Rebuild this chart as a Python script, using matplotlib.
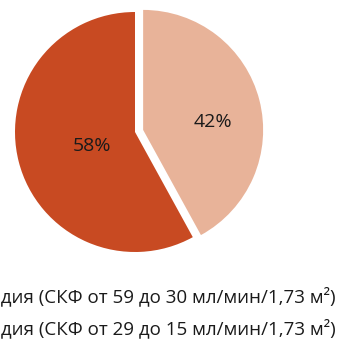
import matplotlib
matplotlib.use("Agg")
import matplotlib.pyplot as plt

# data
stages = ["3 стадия", "4 стадия"]
ranges = ["(СКФ от 59 до 30 мл/мин/1,73 м²)", "(СКФ от 29 до 15 мл/мин/1,73 м²)"]
shares = [58, 42]
colors = ["#C84A22", "#E8B399"]

plt.rcParams["font.family"] = ["Open Sans", "DejaVu Sans"]
FS = 13.5

W, H = 338, 339
fig = plt.figure(figsize=(W / 100, H / 100), dpi=100)

# pie axes: centre at (135, 132) px, radius 120 px
r = 120
cx, cy = 135, 132
ax = fig.add_axes([(cx - r) / W, 1 - (cy + r) / H, 2 * r / W, 2 * r / H])

wedges, _ = ax.pie(
    shares,
    colors=colors,
    startangle=90,
    counterclock=True,
    explode=[0, 0.07],
    radius=1.0,
    wedgeprops=dict(linewidth=0),
)
ax.set_xlim(-1, 1)
ax.set_ylim(-1, 1)
ax.set_aspect("equal")
ax.axis("off")

# percentage labels, offset from each wedge's own centre (in radii)
label_offsets = [(-0.36, -0.12), (0.585, 0.07)]
for w, v, (dx, dy) in zip(wedges, shares, label_offsets):
    x0, y0 = w.center
    ax.text(x0 + dx, y0 + dy, f"{v}%",
            ha="center", va="center", fontsize=14, color="#1a1a1a")

# legend lines, left part runs off the canvas as in the reference
fig.canvas.draw()
renderer = fig.canvas.get_renderer()
probe = fig.text(0, 0, stages[0][:5], fontsize=FS)
prefix_w = probe.get_window_extent(renderer).width
probe.remove()

baselines = [302, 334]
for stage, rng, yb in zip(stages, ranges, baselines):
    fig.text((1 - prefix_w) / W, 1 - yb / H, f"{stage} {rng}",
             ha="left", va="baseline", fontsize=FS, color="#1a1a1a")

fig.savefig("out.png", dpi=100)
